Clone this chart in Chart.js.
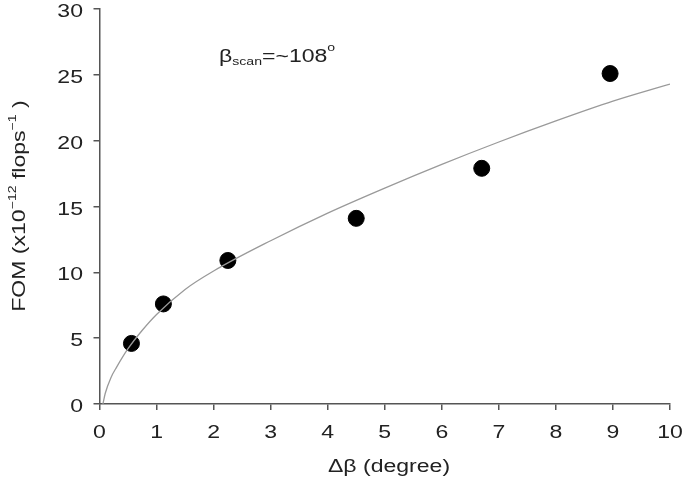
<!DOCTYPE html>
<html>
<head>
<meta charset="utf-8">
<script src="https://cdn.jsdelivr.net/npm/chart.js@4"></script>
<style>
  body { margin: 0; background: #fff; }
  #wrap { width: 683px; height: 477px; }
</style>
</head>
<body>
<div id="wrap"><canvas id="myChart" width="683" height="477"></canvas></div>
<script>
// FOM vs delta-beta scatter with fitted curve

const deltaBeta = [0.56, 1.12, 2.25, 4.5, 6.7, 8.95];
const fomValues = [4.6, 7.6, 10.9, 14.1, 17.9, 25.1];

// fitted curve
const fitX = [0.06, 0.1, 0.2, 0.3, 0.5, 0.75, 1, 1.5, 2, 3, 4, 5, 6, 7, 8, 9, 10];
const fitY = [0, 0.8, 2.0, 2.8, 4.2, 5.6, 6.8, 8.7, 10.1, 12.4, 14.5, 16.4, 18.2, 19.9, 21.5, 23.0, 24.3];

const xTicks = [0, 1, 2, 3, 4, 5, 6, 7, 8, 9, 10];
const yTicks = [0, 5, 10, 15, 20, 25, 30];

const FONT = 'Liberation Sans, Arial, sans-serif';
const SX = 1.28; // the original lettering is wide, stretch it

function runsWidth(ctx, runs) {
    let w = 0;
    runs.forEach(r => { ctx.font = r.size + 'px ' + FONT; w += ctx.measureText(r.t).width; });
    return w * SX;
}
// draws runs of text (with super/subscripts) starting at x, stretched horizontally
function drawRuns(ctx, runs, x, y) {
    ctx.save();
    ctx.translate(x, y);
    ctx.scale(SX, 1);
    let cx = 0;
    runs.forEach(r => {
        ctx.font = r.size + 'px ' + FONT;
        ctx.fillText(r.t, cx, r.dy || 0);
        cx += ctx.measureText(r.t).width;
    });
    ctx.restore();
}
function drawLabel(ctx, text, x, y, align) {
    const runs = [{ t: text, size: 18 }];
    const w = runsWidth(ctx, runs);
    const x0 = align === 'right' ? x - w : align === 'center' ? x - w / 2 : x;
    drawRuns(ctx, runs, x0, y);
}

const labelsPlugin = {
    id: 'labels',
    afterDraw(chart) {
        const { ctx, scales: { x, y } } = chart;
        ctx.save();
        ctx.fillStyle = '#222';
        ctx.textAlign = 'left';
        ctx.textBaseline = 'alphabetic';

        // tick labels
        yTicks.forEach(v => drawLabel(ctx, String(v), 83, y.getPixelForValue(v) + 8, 'right'));
        xTicks.forEach(v => drawLabel(ctx, String(v), x.getPixelForValue(v), 438, 'center'));

        // y axis title
        const yRuns = [
            { t: 'FOM (x10', size: 18 },
            { t: '\u221212', size: 11, dy: -9 },
            { t: ' flops', size: 18 },
            { t: '\u22121', size: 11, dy: -9 },
            { t: ' )', size: 18 },
        ];
        ctx.save();
        ctx.translate(25, 206);
        ctx.rotate(-Math.PI / 2);
        drawRuns(ctx, yRuns, -runsWidth(ctx, yRuns) / 2, 0);
        ctx.restore();

        // x axis title
        const xRuns = [{ t: '\u0394\u03b2 (degree)', size: 18 }];
        drawRuns(ctx, xRuns, 389 - runsWidth(ctx, xRuns) / 2, 472);

        // annotation
        const aRuns = [
            { t: '\u03b2', size: 18 },
            { t: 'scan', size: 11, dy: 3 },
            { t: '=~108', size: 18 },
            { t: 'o', size: 11, dy: -11 },
        ];
        drawRuns(ctx, aRuns, 219, 62);
        ctx.restore();
    }
};

const axisCommon = {
    type: 'linear',
    border: { display: true, color: '#555', width: 1.5 },
    grid: { drawOnChartArea: false, drawTicks: true, tickLength: 6, color: '#555', lineWidth: 1.5 },
    ticks: { display: false },
};

new Chart(document.getElementById('myChart'), {
    type: 'scatter',
    data: {
        datasets: [
            {
                type: 'line',
                label: 'fit',
                data: fitX.map((x, i) => ({ x, y: fitY[i] })),
                borderColor: '#9a9a9a',
                borderWidth: 1.3,
                pointRadius: 0,
                fill: false,
                cubicInterpolationMode: 'monotone',
            },
            {
                label: 'FOM',
                data: deltaBeta.map((x, i) => ({ x, y: fomValues[i] })),
                backgroundColor: '#000',
                borderColor: '#000',
                pointRadius: 8,
            },
        ]
    },
    options: {
        responsive: false,
        animation: false,
        layout: { padding: { left: 0, right: 13, top: 6, bottom: 0 } },
        scales: {
            x: {
                ...axisCommon,
                min: 0, max: 10,
                afterBuildTicks: s => { s.ticks = xTicks.map(v => ({ value: v })); },
                afterFit: s => { s.height = 73; s.paddingLeft = 0; s.paddingRight = 0; },
            },
            y: {
                ...axisCommon,
                min: 0, max: 30,
                afterBuildTicks: s => { s.ticks = yTicks.map(v => ({ value: v })); },
                afterFit: s => { s.width = 99.5; s.paddingTop = 0; s.paddingBottom = 0; },
            },
        },
        plugins: { legend: { display: false }, tooltip: { enabled: false } },
    },
    plugins: [labelsPlugin]
});
</script>
</body>
</html>
